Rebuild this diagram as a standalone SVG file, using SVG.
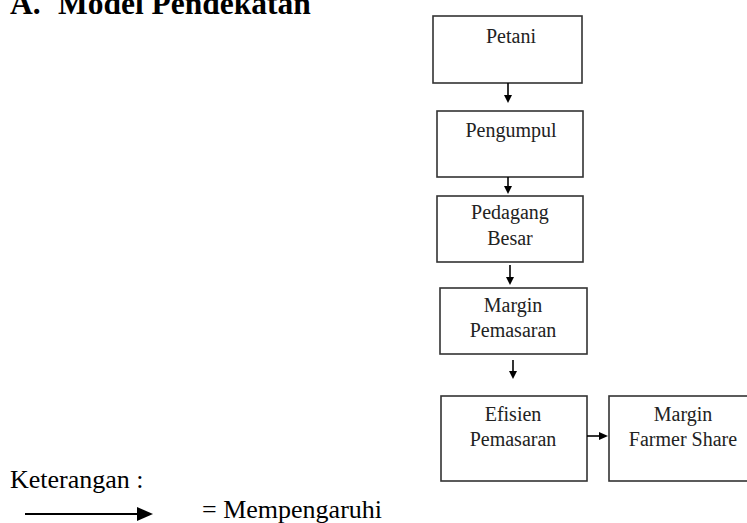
<svg xmlns="http://www.w3.org/2000/svg" width="747" height="523" viewBox="0 0 747 523">
<style>
.box{fill:#fff;stroke:#333;stroke-width:1.6}
.t{font-family:"Liberation Serif","Times New Roman",serif;font-size:20px;fill:#222;text-anchor:middle}
.c{stroke:#000;stroke-width:1.6;fill:none}
.ah{fill:#000}
.title{font-family:"Liberation Serif","Times New Roman",serif;font-size:31.5px;font-weight:bold;fill:#000}
.leg{font-family:"Liberation Serif","Times New Roman",serif;font-size:26px;fill:#000}
</style>
<rect width="747" height="523" fill="#fff"/>
<text class="title" x="10" y="14">A.</text>
<text class="title" x="58" y="14">Model Pendekatan</text>
<g id="petani"><rect class="box" x="433" y="16" width="149" height="67"/><text class="t" x="511" y="43">Petani</text></g>
<g id="pengumpul"><rect class="box" x="437" y="111" width="146" height="66"/><text class="t" x="511" y="137">Pengumpul</text></g>
<g id="pedagang"><rect class="box" x="437" y="196" width="146" height="66"/><text class="t" x="510" y="219">Pedagang</text><text class="t" x="510" y="245">Besar</text></g>
<g id="margin-pemasaran"><rect class="box" x="440" y="288" width="147" height="66"/><text class="t" x="513" y="312">Margin</text><text class="t" x="513" y="337">Pemasaran</text></g>
<g id="efisien"><rect class="box" x="441" y="396" width="146" height="85"/><text class="t" x="513" y="421">Efisien</text><text class="t" x="513" y="446">Pemasaran</text></g>
<g id="farmer-share"><rect class="box" x="609" y="396" width="149" height="85"/><text class="t" x="683" y="421">Margin</text><text class="t" x="683" y="446">Farmer Share</text></g>
<g id="connectors">
<line class="c" x1="508" y1="83" x2="508" y2="96"/><path class="ah" d="M504,95 L512,95 L508,103 Z"/>
<line class="c" x1="508" y1="177" x2="508" y2="187"/><path class="ah" d="M504,186 L512,186 L508,194 Z"/>
<line class="c" x1="510" y1="265" x2="510" y2="278"/><path class="ah" d="M506,277 L514,277 L510,285 Z"/>
<line class="c" x1="513" y1="360" x2="513" y2="372"/><path class="ah" d="M509,371 L517,371 L513,379 Z"/>
<line class="c" x1="587" y1="436" x2="600" y2="436"/><path class="ah" d="M599,432 L599,440 L608,436 Z"/>
</g>
<text class="leg" x="10" y="488">Keterangan :</text>
<g id="legend">
<line x1="25" y1="514" x2="139" y2="514" stroke="#000" stroke-width="2"/><path class="ah" d="M137,507 L137,521 L153,514 Z"/>
</g>
<text class="leg" x="202" y="518">= Mempengaruhi</text>
</svg>
